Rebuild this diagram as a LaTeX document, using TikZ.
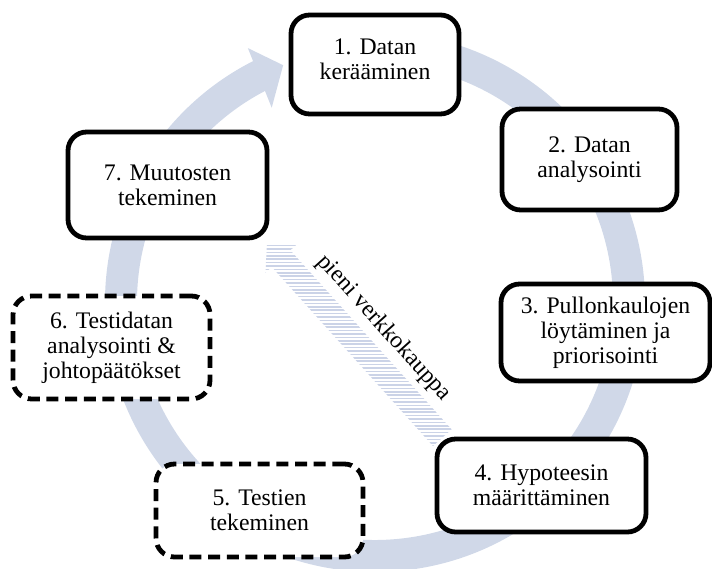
\documentclass[tikz,border=0pt]{standalone}
\usepackage{fontspec}
\setmainfont{Liberation Serif}
\definecolor{ringblue}{RGB}{208,216,232}
\definecolor{stripeblue}{RGB}{203,211,231}
\tikzset{
  bodytext/.style={align=center, inner sep=0pt, font=\fontsize{17.8}{18.6}\selectfont},
  stage/.style={bodytext, draw=black, line width=3.6pt, rounded corners=14pt, fill=white},
  trial/.style={stage, dash pattern=on 9pt off 5pt},
  cyclearc/.style={draw=ringblue, line width=24pt},
  stripe/.style={draw=stripeblue, line width=1.15pt},
}
\begin{document}
\begin{tikzpicture}[x=0.75pt,y=0.75pt]
\useasboundingbox (0,0) rectangle (712,568);
\coordinate (c) at (375,266);

% the cycle ring with its arrowhead
\draw[cyclearc] ([shift={(95:190.5pt)}]c) arc[start angle=95, end angle=-243.5, radius=190.5pt];
\fill[ringblue] ([shift={(116.6:213pt)}]c) -- ([shift={(111.2:190.5pt)}]c)
  -- ([shift={(118:165pt)}]c) -- cycle;

% striped shortcut arrow
\path[shift={(267,325)}, rotate=-48]
  coordinate (a0) at (0,0)
  coordinate (a1) at (21,21)
  coordinate (a2) at (21,12.5)
  coordinate (a3) at (262,12.5)
  coordinate (a4) at (262,-12.5)
  coordinate (a5) at (21,-12.5)
  coordinate (a6) at (21,-21);
\begin{scope}
  \clip (a0) -- (a1) -- (a2) -- (a3) -- (a4) -- (a5) -- (a6) -- cycle;
  \foreach \k in {0,...,66}
    \draw[stripe] (240,{115+3.4*\k}) -- (480,{115+3.4*\k});
\end{scope}
\node[bodytext, rotate=-48] (lbl) at (384,240) {pieni verkkokauppa};

% stages
\node[stage, minimum width=126pt,    minimum height=74.25pt] (n1) at (375,503.5) {};
\node[bodytext] (n1t) at ([yshift=4pt]n1.center) {1. Datan\\kerääminen};
\node[stage, minimum width=131.25pt, minimum height=75.75pt] (n2) at (589.5,408.5) {2. Datan\\analysointi};
\node[stage, minimum width=156.75pt, minimum height=72.75pt] (n3) at (605.5,235.5) {3. Pullonkaulojen\\löytäminen ja\\priorisointi};
\node[stage, minimum width=156.75pt, minimum height=69.75pt] (n4) at (541.5,82.5) {4. Hypoteesin\\määrittäminen};
\node[trial, minimum width=155.25pt, minimum height=69.75pt] (n5) at (259.5,57.5) {5. Testien\\tekeminen};
\node[trial, minimum width=147.75pt, minimum height=77.25pt] (n6) at (111.5,220.5) {6. Testidatan\\analysointi \&\\johtopäätökset};
\node[stage, minimum width=149.25pt, minimum height=79.5pt]  (n7) at (167.5,383) {7. Muutosten\\tekeminen};
\end{tikzpicture}
\end{document}
